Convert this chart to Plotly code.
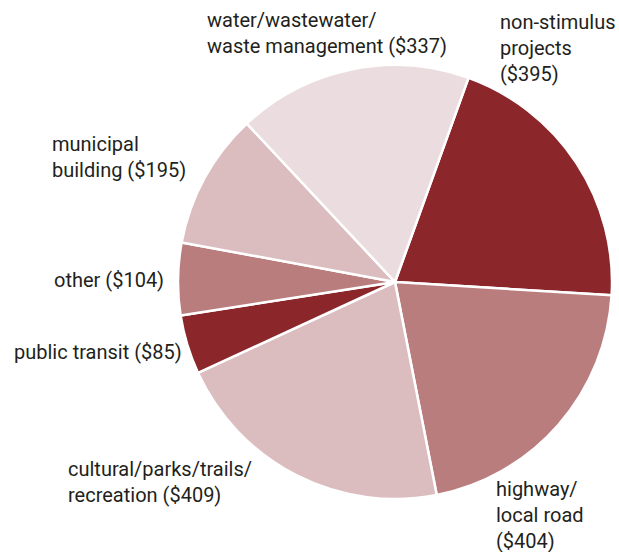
import plotly.graph_objects as go

labels = ["non-stimulus projects", "highway/local road", "cultural/parks/trails/recreation",
          "public transit", "other", "municipal building", "water/wastewater/waste management"]
values = [395, 404, 409, 85, 104, 195, 337]
label_texts = ["non-stimulus<br>projects<br>($395)",
               "highway/<br>local road<br>($404)",
               "cultural/parks/trails/<br>recreation ($409)",
               "public transit ($85)",
               "other ($104)",
               "municipal<br>building ($195)",
               "water/wastewater/<br>waste management ($337)"]
colors = ["#8B262B", "#B97D7E", "#DCBDBF", "#8B262B", "#B97D7E", "#DCBDBF", "#EBDDDF"]

W, H = 619, 552
cx, cy, r = 395, 282, 217

fig = go.Figure(go.Pie(
    labels=labels, values=values, sort=False, direction="clockwise", rotation=19.8,
    marker=dict(colors=colors, line=dict(color="white", width=2.5)),
    textinfo="none", hoverinfo="label+value", showlegend=False,
    domain=dict(x=[(cx - r) / W, (cx + r) / W], y=[1 - (cy + r) / H, 1 - (cy - r) / H]),
))

# label placement (pixel positions: x, y-center, x-anchor, align)
pos = [(498, 48, "left"), (494, 515, "left"), (66, 482, "left"),
       (184, 352, "right"), (166, 280, "right"), (50, 157, "left"), (205, 33, "left")]
font = dict(family="Roboto, sans-serif", size=20, color="#231f20")
for t, (px, py, anc) in zip(label_texts, pos):
    fig.add_annotation(x=px / W, y=1 - py / H, xref="paper", yref="paper", text=t, showarrow=False,
                       xanchor=anc, yanchor="middle", align=anc, font=font)

fig.update_layout(width=W, height=H, margin=dict(l=0, r=0, t=0, b=0),
                  paper_bgcolor="white", plot_bgcolor="white")
fig.write_html("out.html", config={"displayModeBar": False},
               post_script="document.body.style.margin='0';")
